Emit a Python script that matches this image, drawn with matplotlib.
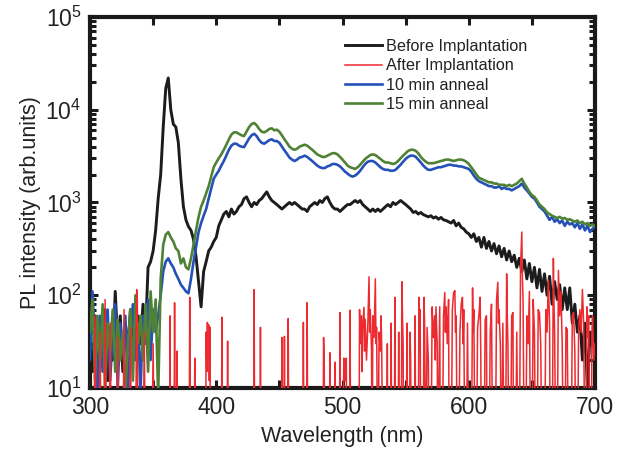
import numpy as np
import matplotlib
matplotlib.use("Agg")
import matplotlib.pyplot as plt
from matplotlib.ticker import MultipleLocator, LogLocator, NullFormatter

plt.rcParams['font.family'] = ['Liberation Sans', 'DejaVu Sans']
plt.rcParams['mathtext.fontset'] = 'custom'
plt.rcParams['mathtext.rm'] = 'Liberation Sans'
plt.rcParams['mathtext.it'] = 'Liberation Sans'
plt.rcParams['mathtext.bf'] = 'Liberation Sans'

# wavelength grid (nm) for the three continuous spectra
wavelength = list(range(300, 701, 2))

before_implantation = [
    30, 15, 60, 8, 40, 25, 70, 12, 45, 20, 110, 30, 60, 15, 50, 25, 70, 20, 45, 60,
    30, 80, 40, 200, 230, 300, 500, 1100,                  # 300-354
    # 356 ...
    2000, 6500, 17000, 22000, 10000, 7000, 6500, 4400, 1800, 900,
    650, 550, 500, 400, 260, 140, 75, 180, 230, 300,
    330, 380, 420, 560, 650, 750, 800, 700, 850, 750,
    800, 900, 950, 1100, 1150, 1000, 900, 1000, 950, 1050,
    1100, 1200, 1300, 1150, 1050, 1000, 950, 900, 850, 900,
    950, 1000, 950, 1000, 950, 900, 850, 850, 800, 900,
    950, 1000, 950, 1050, 1000, 1100, 1150, 1000, 900, 850,
    850, 800, 850, 900, 950, 950, 1000, 1050, 1000, 1050,
    950, 900, 850, 800, 850, 800, 850, 800, 850, 900,
    950, 900, 1000, 950, 1000, 1050, 1000, 950, 900, 850,
    780, 800, 750, 780, 740, 720, 700, 720, 680, 700,
    660, 690, 650, 640, 620, 600, 640, 560, 600, 540,
    520, 480, 460, 420, 460, 380, 420, 330, 420, 320,
    380, 300, 360, 280, 340, 260, 320, 240, 300, 230,
    270, 200, 250, 180, 240, 150, 220, 140, 200, 120,
    190, 110, 170, 100, 160, 80, 140, 90, 130, 70,
    120, 70, 120, 50, 80, 40, 60, 20, 50, 9,
    40, 30, 50,
]

after_wl = [
    300, 303, 304, 305, 307, 308, 309, 311, 312, 313, 315, 316, 317, 321, 322, 323,
    326, 327, 328, 331, 332, 333, 336, 337, 337.5, 338, 342, 343, 344, 349, 350, 351,
    363, 363.4, 363.8, 366.5, 367, 367.6, 368.5, 369, 369.5, 378.5, 379, 379.5,
    382.5, 383, 383.5, 391.5, 392, 392.5, 393, 393.5, 394, 394.5, 395, 395.5,
    404, 404.5, 405, 408.5, 409, 409.5, 429.5, 430, 430.5, 434.5, 435, 435.5,
    451.5, 452, 452.5, 453.5, 454, 454.5, 456.5, 457, 457.5, 468.5, 469, 469.5,
    471.5, 472, 472.5, 484.5, 485, 485.5, 486, 489.5, 490, 490.5, 493.5, 494, 494.5,
    497.5, 498, 498.5, 500.5, 501, 502, 503, 503.5, 505.5, 506, 506.5,
    513, 513.5, 514, 515, 515.5, 516, 517, 517.5, 518, 519, 520, 521, 521.5, 522,
    523, 523.5, 524, 525, 526, 526.5, 527, 528, 529, 530, 530.5, 531, 532,
    535, 535.5, 536, 538, 538.5, 539, 541, 541.5, 542, 544, 544.5, 545, 546.5,
    547, 547.5, 548, 548.5, 550.5, 551, 551.5, 553, 553.5, 554, 554.5, 557, 557.5,
    558, 560, 560.5, 561, 561.5, 562, 564, 564.5, 565, 566, 567, 568, 568.5, 570,
    571, 572, 573, 573.5, 574, 575, 575.5, 577, 577.5, 579, 580, 581, 581.5, 582,
    583, 584, 584.5, 586, 587, 588, 589, 589.5, 590, 591, 592, 593, 594, 595,
    595.5, 596, 597, 598, 599, 600, 602, 603, 603.5, 604, 605, 606, 607, 608, 609,
    609.5, 610, 612, 613, 614, 614.5, 616, 617, 618, 619, 621, 622, 623, 623.5,
    624, 625, 626, 627, 628, 629, 630, 630.5, 631, 632, 633, 634, 635, 635.5, 637,
    638, 639, 640, 641, 642, 642.5, 643, 644, 645, 646, 647, 648, 649, 650, 651,
    652, 653, 654, 655, 656, 657, 658, 660, 661, 662, 663, 664, 664.5, 666, 667,
    667.5, 668, 669, 670, 671, 672, 673, 674, 675, 676, 677, 678, 679, 681, 682,
    683, 684, 685, 686, 687, 688, 689, 690, 691, 692, 693, 693.5, 694, 695, 696,
    697, 697.5, 698, 699, 700,
]
after_implantation = [
    1, 1, 60, 1, 1, 40, 1, 1, 90, 1, 1, 50, 1, 1, 35, 1,
    1, 70, 1, 1, 45, 1, 1, 115, 90, 1, 1, 40, 1, 1, 30, 1,
    1, 60, 1, 1, 83, 1, 1, 25, 1, 1, 95, 1,
    1, 21, 1, 1, 40, 15, 51, 20, 48, 12, 45, 1,
    1, 58, 1, 1, 32, 1, 1, 115, 1, 1, 45, 1,
    1, 35, 1, 1, 36, 1, 1, 56, 1, 1, 51, 1,
    1, 83, 1, 1, 35, 20, 1, 1, 24, 1, 1, 19, 1,
    1, 65, 1, 1, 21, 12, 21, 1, 1, 69, 1,
    1, 70, 30, 60, 15, 45, 74, 25, 55, 20, 45, 158, 40, 70,
    25, 1, 60, 35, 150, 30, 45, 1, 40, 25, 60, 30, 1,
    1, 30, 1, 1, 50, 1, 1, 95, 1, 1, 40, 1, 1,
    140, 60, 30, 1, 1, 50, 1, 1, 40, 20, 1, 1, 60,
    1, 1, 95, 40, 70, 1, 1, 95, 50, 1, 45, 20, 1, 1,
    75, 35, 60, 20, 75, 30, 1, 75, 1, 1, 60, 107, 40, 75,
    30, 90, 1, 1, 70, 107, 112, 40, 60, 1, 1, 40, 80, 95,
    30, 70, 1, 1, 50, 1, 1, 120, 40, 70, 1, 1, 45, 60, 95,
    25, 1, 1, 55, 60, 1, 1, 40, 80, 1, 1, 90, 138, 50,
    70, 30, 1, 50, 1, 1, 170, 60, 30, 1, 1, 60, 65, 1, 1,
    40, 1, 1, 200, 480, 150, 90, 1, 1, 60, 30, 110, 1, 1, 90,
    40, 1, 1, 70, 65, 30, 1, 1, 70, 40, 145, 50, 1, 1, 250,
    80, 40, 1, 1, 185, 60, 110, 30, 1, 1, 45, 43, 1, 1, 60,
    65, 25, 1, 1, 40, 70, 40, 115, 50, 1, 1, 75, 35, 60, 1,
    1, 40, 60, 20, 30,
]

anneal_10min = [
    20, 110, 30, 9, 60, 15, 45, 70, 12, 40, 80, 10, 50, 25, 60, 9, 40, 80, 20, 50,
    9, 60, 30, 90, 20, 70, 40, 60, 100, 180,
    230, 250, 220, 200, 170, 150, 130, 120, 110, 105,
    150, 230, 330, 480, 600, 720, 850, 1100, 1400, 1800,
    2000, 2200, 2500, 2800, 3200, 3700, 4100, 4300, 4300, 4100,
    4000, 3950, 4400, 4900, 5300, 5500, 5200, 4700, 4400, 4300,
    4500, 4700, 4800, 4600, 4600, 4400, 4000, 3650, 3350, 3050,
    2900, 2800, 2900, 3050, 3100, 3200, 3100, 2950, 2800, 2650,
    2500, 2400, 2350, 2350, 2450, 2500, 2600, 2600, 2550, 2450,
    2300, 2150, 2050, 1950, 1900, 1950, 2050, 2200, 2400, 2600,
    2750, 2800, 2800, 2700, 2550, 2400, 2300, 2250, 2250, 2200,
    2200, 2250, 2400, 2550, 2750, 2950, 3100, 3200, 3200, 3100,
    2900, 2700, 2500, 2350, 2250, 2250, 2300, 2350, 2400, 2400,
    2450, 2500, 2550, 2550, 2500, 2500, 2450, 2450, 2400, 2350,
    2300, 2150, 1950, 1800, 1700, 1650, 1600, 1550, 1500, 1500,
    1450, 1450, 1500, 1400, 1450, 1400, 1400, 1350, 1400, 1450,
    1500, 1600, 1450, 1350, 1250, 1150, 1100, 1000, 900, 850,
    800, 720, 650, 700, 620, 660, 600, 640, 560, 620,
    580, 600, 540, 600, 520, 580, 500, 560, 480, 520,
    560,
]

anneal_15min = [
    40, 90, 12, 60, 20, 80, 9, 50, 25, 70, 15, 55, 20, 40, 9, 30, 70, 12, 100, 30,
    60, 20, 80, 15, 110, 40, 90, 8, 150, 350,
    450, 480, 420, 380, 320, 300, 220, 250, 200, 190,
    250, 350, 500, 700, 900, 1050, 1250, 1500, 1900, 2400,
    2700, 3000, 3300, 3700, 4200, 4800, 5400, 5700, 5700, 5500,
    5300, 5200, 5800, 6500, 7000, 7200, 6800, 6200, 5800, 5700,
    5900, 6200, 6300, 6000, 6100, 5800, 5300, 4800, 4400, 4000,
    3800, 3700, 3800, 4000, 4100, 4200, 4100, 3900, 3700, 3500,
    3300, 3200, 3100, 3100, 3200, 3300, 3400, 3400, 3300, 3100,
    2900, 2700, 2500, 2400, 2350, 2300, 2400, 2550, 2750, 2950,
    3100, 3250, 3300, 3250, 3100, 2950, 2800, 2700, 2700, 2650,
    2600, 2650, 2800, 3000, 3200, 3400, 3600, 3700, 3700, 3600,
    3400, 3100, 2900, 2750, 2650, 2650, 2650, 2700, 2750, 2800,
    2850, 2900, 2900, 2850, 2800, 2850, 2900, 2900, 2850, 2750,
    2600, 2400, 2200, 2000, 1850, 1800, 1750, 1700, 1650, 1650,
    1600, 1600, 1550, 1550, 1550, 1500, 1550, 1500, 1550, 1600,
    1700, 1800, 1600, 1450, 1300, 1200, 1150, 1050, 950, 900,
    850, 780, 750, 720, 700, 680, 700, 670, 680, 650,
    660, 640, 620, 640, 600, 620, 580, 600, 560, 580,
    550,
]

labels = ["Before Implantation", "After Implantation", "10 min anneal", "15 min anneal"]
colors = ["#1c1c1c", "#ec2a2f", "#2451b8", "#4f8234"]

fig = plt.figure(figsize=(6.31, 4.54), dpi=100)
ax = fig.add_axes([0.1426, 0.1454, 0.8004, 0.8172])

l0, = ax.plot(wavelength, before_implantation, color=colors[0], lw=2.1, zorder=2)
l2, = ax.plot(wavelength, anneal_10min, color=colors[2], lw=1.9, zorder=3)
l3, = ax.plot(wavelength, anneal_15min, color=colors[3], lw=1.9, zorder=4)
l1, = ax.plot(after_wl, after_implantation, color=colors[1], lw=1.1, zorder=5)

ax.set_yscale('log')
ax.set_xlim(300, 700)
ax.set_ylim(10, 1e5)

ax.xaxis.set_major_locator(MultipleLocator(100))
ax.xaxis.set_minor_locator(MultipleLocator(50))
ax.yaxis.set_major_locator(LogLocator(base=10, numticks=10))
ax.yaxis.set_minor_locator(LogLocator(base=10, subs=np.arange(2, 10), numticks=20))
ax.yaxis.set_minor_formatter(NullFormatter())

ax.tick_params(which='both', direction='in', top=True, right=True, width=2.2, colors='#1a1a1a',
               labelcolor='#222222')
ax.tick_params(which='major', length=6, labelsize=16.5, pad=6)
ax.tick_params(which='minor', length=4)
ax.tick_params(axis='x', which='minor', length=6)
for s in ax.spines.values():
    s.set_linewidth(3)
    s.set_color('#1a1a1a')

ax.set_xlabel("Wavelength (nm)", fontsize=15.5, color='#222222', labelpad=5)
ax.set_ylabel("PL intensity (arb.units)", fontsize=15.5, color='#222222', labelpad=3)

leg = ax.legend([l0, l1, l2, l3], labels, loc='upper left', bbox_to_anchor=(0.475, 0.98),
                frameon=False, fontsize=11.7, handlelength=2.3, handletextpad=0.25,
                labelspacing=0.27)
for t in leg.get_texts():
    t.set_color('#222222')

fig.savefig("out.png", dpi=100)
